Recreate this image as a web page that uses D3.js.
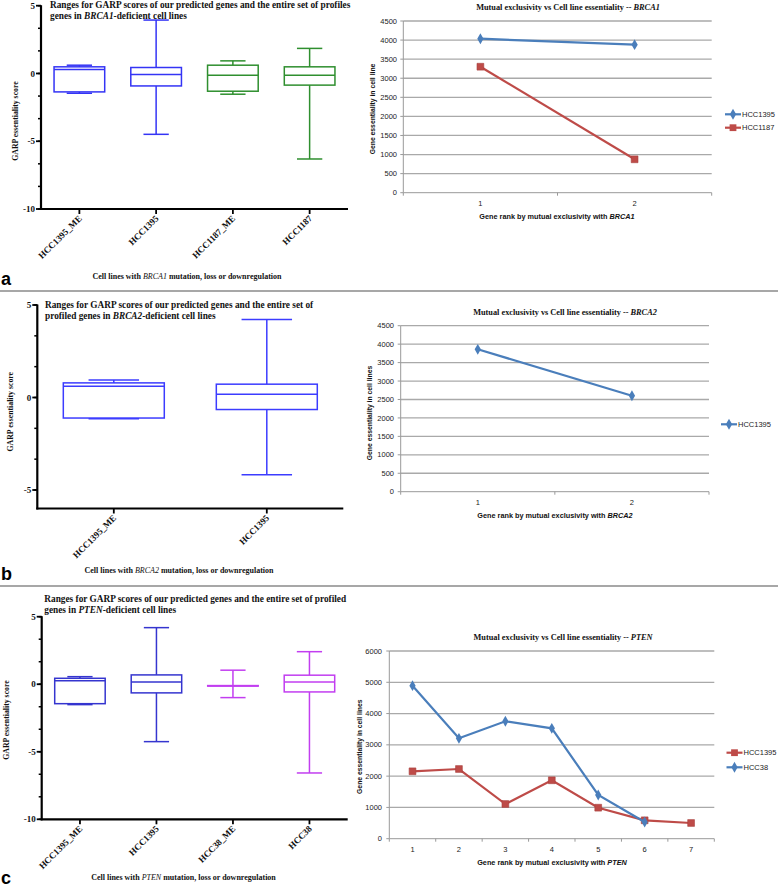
<!DOCTYPE html>
<html><head><meta charset="utf-8">
<script src="https://cdn.jsdelivr.net/npm/d3@7"></script>
<style>body{margin:0;background:#fff}svg{display:block}</style>
</head><body>
<svg id="c" width="778" height="888"></svg>
<script>
// ---------- DATA ----------
// Panel a box plot (GARP essentiality scores)
const boxA_cats = ["HCC1395_ME", "HCC1395", "HCC1187_ME", "HCC1187"];
const boxA_max = [0.61, 3.94, 0.93, 1.85];
const boxA_q3 = [0.49, 0.44, 0.61, 0.49];
const boxA_med = [0.30, -0.07, -0.13, -0.13];
const boxA_q1 = [-1.36, -0.92, -1.31, -0.86];
const boxA_min = [-1.46, -4.49, -1.53, -6.31];
const boxA_ticks = [5, 0, -5, -10];
// Panel b box plot
const boxB_cats = ["HCC1395_ME", "HCC1395"];
const boxB_max = [0.94, 4.22];
const boxB_q3 = [0.79, 0.72];
const boxB_med = [0.61, 0.18];
const boxB_q1 = [-1.11, -0.65];
const boxB_min = [-1.15, -4.17];
const boxB_ticks = [5, 0, -5];
// Panel c box plot
const boxC_cats = ["HCC1395_ME", "HCC1395", "HCC38_ME", "HCC38"];
const boxC_max = [0.56, 4.19, 1.04, 2.41];
const boxC_q3 = [0.44, 0.69, -0.10, 0.67];
const boxC_med = [0.25, 0.17, -0.12, 0.17];
const boxC_q1 = [-1.44, -0.64, -0.14, -0.57];
const boxC_min = [-1.51, -4.25, -0.99, -6.57];
const boxC_ticks = [5, 0, -5, -10];
// Panel a line chart
const lineA_ranks = [1, 2];
const lineA_HCC1395 = [4036, 3879];
const lineA_HCC1187 = [3302, 875];
const lineA_ticks = [0, 500, 1000, 1500, 2000, 2500, 3000, 3500, 4000, 4500];
// Panel b line chart
const lineB_ranks = [1, 2];
const lineB_HCC1395 = [3860, 2602];
const lineB_ticks = [0, 500, 1000, 1500, 2000, 2500, 3000, 3500, 4000, 4500];
// Panel c line chart
const lineC_ranks = [1, 2, 3, 4, 5, 6, 7];
const lineC_HCC1395 = [2154, 2228, 1109, 1867, 991, 588, 502];
const lineC_HCC38 = [4891, 3209, 3753, 3529, 1397, 534];
const lineC_ticks = [0, 1000, 2000, 3000, 4000, 5000, 6000];

// ---------- STYLE ----------
const SERIF = "'Liberation Serif','Times New Roman',serif";
const SANS = "'Liberation Sans',Arial,sans-serif";
const BLUE_LINE = "#4a7ebb", RED_LINE = "#be4b48";

const svg = d3.select("#c");

function rich(g, x, y, segs, o) {
  const t = g.append("text").attr("x", x).attr("y", y)
    .attr("font-family", o.family).attr("font-size", o.size)
    .attr("font-weight", o.weight || "bold")
    .attr("text-anchor", o.anchor || "start").attr("fill", "#111");
  if (o.transform) t.attr("transform", o.transform);
  segs.forEach(s => {
    const ts = t.append("tspan").text(s[0]);
    if (s[1]) ts.attr("font-style", "italic");
    if (s[2]) ts.attr("font-weight", s[2]);
  });
  return t;
}

function boxPlot(p) {
  const g = svg.append("g");
  const x = d3.scaleBand().domain(p.cats).range(p.xr);
  const y = d3.scaleLinear().domain(p.yd).range(p.yr);
  const x0 = p.xr[0], yb = y(p.yd[0]), yt = y(p.yd[1]);
  // axes
  g.append("line").attr("x1", x0).attr("x2", x0).attr("y1", yt - 0.5).attr("y2", yb + 1)
    .attr("stroke", "#000").attr("stroke-width", 2.2);
  g.append("line").attr("x1", x0 - 1).attr("x2", p.xr[1]).attr("y1", yb).attr("y2", yb)
    .attr("stroke", "#000").attr("stroke-width", 2.2);
  // minor ticks
  const minor = d3.range(p.yd[1], p.yd[0] - 0.01, -5 / 3);
  minor.forEach(v => {
    g.append("line").attr("x1", x0 - 3).attr("x2", x0).attr("y1", y(v)).attr("y2", y(v))
      .attr("stroke", "#000").attr("stroke-width", 1.5);
  });
  p.ticks.forEach(v => {
    g.append("line").attr("x1", x0 - 5).attr("x2", x0).attr("y1", y(v)).attr("y2", y(v))
      .attr("stroke", "#000").attr("stroke-width", 1.8);
    g.append("text").attr("x", x0 - 6).attr("y", y(v)).attr("dy", "0.35em")
      .attr("text-anchor", "end").attr("font-family", SERIF).attr("font-weight", "bold")
      .attr("font-size", 9).attr("fill", "#111").text(String(v));
  });
  // categories
  const bw = x.bandwidth() * 0.66, cw = bw / 2;
  p.cats.forEach((c, i) => {
    const cx = x(c) + x.bandwidth() / 2, col = p.colors[i];
    g.append("line").attr("x1", cx).attr("x2", cx).attr("y1", yb).attr("y2", yb + 5)
      .attr("stroke", "#000").attr("stroke-width", 1.8);
    rich(g, 0, 0, [[c]], { family: SERIF, size: 9, anchor: "end",
      transform: `translate(${cx + 3},${yb + 10}) rotate(-45)` });
    const bx = g.append("g").attr("stroke", col).attr("stroke-width", 1.5).attr("fill", "none");
    bx.append("line").attr("x1", cx).attr("x2", cx).attr("y1", y(p.max[i])).attr("y2", y(p.q3[i]));
    bx.append("line").attr("x1", cx).attr("x2", cx).attr("y1", y(p.q1[i])).attr("y2", y(p.min[i]));
    bx.append("line").attr("x1", cx - cw / 2).attr("x2", cx + cw / 2).attr("y1", y(p.max[i])).attr("y2", y(p.max[i]));
    bx.append("line").attr("x1", cx - cw / 2).attr("x2", cx + cw / 2).attr("y1", y(p.min[i])).attr("y2", y(p.min[i]));
    bx.append("rect").attr("x", cx - bw / 2).attr("width", bw).attr("y", y(p.q3[i]))
      .attr("height", Math.max(0.01, y(p.q1[i]) - y(p.q3[i])));
    bx.append("line").attr("x1", cx - bw / 2).attr("x2", cx + bw / 2).attr("y1", y(p.med[i])).attr("y2", y(p.med[i]));
  });
  // titles
  p.title.forEach((segs, k) => rich(g, p.titleX, p.titleY[k], segs, { family: SERIF, size: 9.3 }).attr("dy", "0.35em"));
  rich(g, 0, 0, [["GARP essentiality score"]], { family: SERIF, size: 7.8, anchor: "middle",
    transform: `translate(${p.ytX},${p.ytY}) rotate(-90)` }).attr("dy", "0.35em");
  rich(g, p.xtX, p.xtY, p.xtitle, { family: SERIF, size: 8, anchor: "middle" }).attr("dy", "0.35em");
}

function lineChart(p) {
  const g = svg.append("g");
  const x = d3.scaleBand().domain(p.ranks).range(p.xr);
  const y = d3.scaleLinear().domain(p.yd).range(p.yr);
  const x0 = p.xr[0], x1 = p.xr[1], yb = y(p.yd[0]);
  p.ticks.forEach(v => {
    if (v > 0) g.append("line").attr("x1", x0).attr("x2", x1).attr("y1", y(v)).attr("y2", y(v))
      .attr("stroke", "#a9a9a9").attr("stroke-width", 1.3);
    g.append("line").attr("x1", x0 - 3).attr("x2", x0).attr("y1", y(v)).attr("y2", y(v))
      .attr("stroke", "#999").attr("stroke-width", 1);
    g.append("text").attr("x", p.labX).attr("y", y(v)).attr("dy", "0.35em").attr("text-anchor", "end")
      .attr("font-family", SANS).attr("font-size", 7.5).attr("fill", "#222").text(String(v));
  });
  g.append("line").attr("x1", x0).attr("x2", x0).attr("y1", y(p.yd[1])).attr("y2", yb)
    .attr("stroke", "#999").attr("stroke-width", 1);
  g.append("line").attr("x1", x0).attr("x2", x1).attr("y1", yb).attr("y2", yb)
    .attr("stroke", "#999").attr("stroke-width", 1);
  const edges = p.ranks.map(r => x(r)).concat([x1]);
  edges.forEach(e => g.append("line").attr("x1", e).attr("x2", e).attr("y1", yb).attr("y2", yb + 3)
    .attr("stroke", "#999").attr("stroke-width", 1));
  p.ranks.forEach(r => g.append("text").attr("x", x(r) + x.bandwidth() / 2).attr("y", yb + 11)
    .attr("dy", "0.35em").attr("text-anchor", "middle").attr("font-family", SANS)
    .attr("font-size", 7.5).attr("fill", "#222").text(String(r)));
  const cx = r => x(r) + x.bandwidth() / 2;
  p.series.forEach(s => {
    const pts = s.values.map((v, i) => [cx(p.ranks[i]), y(v)]);
    g.append("path").attr("d", d3.line()(pts)).attr("fill", "none")
      .attr("stroke", s.color).attr("stroke-width", 2.2);
    const sym = d3.symbol().type(s.marker === "square" ? d3.symbolSquare : d3.symbolDiamond)
      .size(s.marker === "square" ? 46 : 34);
    pts.forEach(pt => g.append("path").attr("d", sym()).attr("transform", `translate(${pt[0]},${pt[1]})`)
      .attr("fill", s.color).attr("stroke", s.marker === "square" ? "#a8403d" : "none").attr("stroke-width", 0.6));
    // legend
    g.append("line").attr("x1", s.lx).attr("x2", s.lx + 16).attr("y1", s.ly).attr("y2", s.ly)
      .attr("stroke", s.color).attr("stroke-width", 2.2);
    g.append("path").attr("d", sym()).attr("transform", `translate(${s.lx + 8},${s.ly})`).attr("fill", s.color);
    g.append("text").attr("x", s.lx + 17).attr("y", s.ly).attr("dy", "0.35em")
      .attr("font-family", SANS).attr("font-size", 7.5).attr("fill", "#222").text(s.name);
  });
  rich(g, p.tX, p.tY, p.title, { family: SERIF, size: 8.3, anchor: "middle" }).attr("dy", "0.35em");
  rich(g, p.xtX, p.xtY, p.xtitle, { family: SANS, size: 7.3, anchor: "middle" }).attr("dy", "0.35em");
  rich(g, 0, 0, [[p.ytitle]], { family: SANS, size: 6.8, anchor: "middle",
    transform: `translate(${p.ytX},${p.ytY}) rotate(-90)` }).attr("dy", "0.35em");
}

// separators
[291, 586].forEach(yy => svg.append("line").attr("x1", 0).attr("x2", 778).attr("y1", yy).attr("y2", yy)
  .attr("stroke", "#8a8a8a").attr("stroke-width", 1.5));
// panel letters
[["a", 285], ["b", 580], ["c", 884]].forEach(([l, yy]) => svg.append("text").attr("x", 1).attr("y", yy)
  .attr("font-family", SANS).attr("font-weight", "bold").attr("font-size", 18).attr("fill", "#000").text(l));

// ---------- PANEL A ----------
boxPlot({
  cats: boxA_cats, max: boxA_max, q3: boxA_q3, med: boxA_med, q1: boxA_q1, min: boxA_min, ticks: boxA_ticks,
  colors: ["#3434f5", "#3434f5", "#2f8f2f", "#2f8f2f"],
  xr: [41, 348], yd: [-10, 5], yr: [209, 5.7],
  title: [[["Ranges for GARP scores of our predicted genes and the entire set of profiles"]],
          [["genes in "], ["BRCA1", true], ["-deficient cell lines"]]],
  titleX: 50, titleY: [5, 16],
  ytX: 15, ytY: 121,
  xtitle: [["Cell lines with "], ["BRCA1", true, "normal"], [" mutation, loss or downregulation"]], xtX: 187, xtY: 276.5
});
lineChart({
  ranks: lineA_ranks, ticks: lineA_ticks, xr: [403.3, 711.7], yd: [0, 4500], yr: [192.7, 21], labX: 397,
  series: [
    { name: "HCC1395", values: lineA_HCC1395, color: BLUE_LINE, marker: "diamond", lx: 725, ly: 114.3 },
    { name: "HCC1187", values: lineA_HCC1187, color: RED_LINE, marker: "square", lx: 725, ly: 127.7 }],
  title: [["Mutual exclusivity vs Cell line essentiality -- "], ["BRCA1", true]], tX: 568, tY: 7,
  xtitle: [["Gene rank by mutual exclusivity  with "], ["BRCA1", true]], xtX: 557, xtY: 216.7,
  ytitle: "Gene essentiality in cell line", ytX: 373, ytY: 109
});

// ---------- PANEL B ----------
boxPlot({
  cats: boxB_cats, max: boxB_max, q3: boxB_q3, med: boxB_med, q1: boxB_q1, min: boxB_min, ticks: boxB_ticks,
  colors: ["#3c3cff", "#3c3cff"],
  xr: [37.3, 343.3], yd: [-6, 5], yr: [508.5, 305],
  title: [[["Ranges for GARP scores of our predicted genes and the entire set of"]],
          [["profiled genes in "], ["BRCA2", true], ["-deficient cell lines"]]],
  titleX: 45, titleY: [305, 316],
  ytX: 10, ytY: 411.7,
  xtitle: [["Cell lines with "], ["BRCA2", true, "normal"], [" mutation, loss or downregulation"]], xtX: 179, xtY: 570
});
lineChart({
  ranks: lineB_ranks, ticks: lineB_ticks, xr: [400.7, 709], yd: [0, 4500], yr: [491.7, 325.7], labX: 394,
  series: [
    { name: "HCC1395", values: lineB_HCC1395, color: BLUE_LINE, marker: "diamond", lx: 721, ly: 424.3 }],
  title: [["Mutual  exclusivity vs Cell line essentiality -- "], ["BRCA2", true]], tX: 565, tY: 312.3,
  xtitle: [["Gene rank by mutual exclusivity  with "], ["BRCA2", true]], xtX: 555, xtY: 515.7,
  ytitle: "Gene essentiality in cell lines", ytX: 370, ytY: 413
});

// ---------- PANEL C ----------
boxPlot({
  cats: boxC_cats, max: boxC_max, q3: boxC_q3, med: boxC_med, q1: boxC_q1, min: boxC_min, ticks: boxC_ticks,
  colors: ["#3535cf", "#3535cf", "#c23ef0", "#c23ef0"],
  xr: [41.7, 347.7], yd: [-10, 5], yr: [819.3, 616.7],
  title: [[["Ranges for GARP scores of our predicted genes and the entire set of profiled"]],
          [["genes in "], ["PTEN", true], ["-deficient cell lines"]]],
  titleX: 44.3, titleY: [598.3, 610],
  ytX: 6.5, ytY: 720,
  xtitle: [["Cell lines with "], ["PTEN", true, "normal"], [" mutation, loss or downregulation"]], xtX: 183.5, xtY: 876.7
});
lineChart({
  ranks: lineC_ranks, ticks: lineC_ticks, xr: [389.3, 714.3], yd: [0, 6000], yr: [838.7, 651], labX: 382,
  series: [
    { name: "HCC1395", values: lineC_HCC1395, color: RED_LINE, marker: "square", lx: 726.5, ly: 752.7 },
    { name: "HCC38", values: lineC_HCC38, color: BLUE_LINE, marker: "diamond", lx: 726.5, ly: 767.3 }],
  title: [["Mutual  exclusivity vs Cell line essentiality -- "], ["PTEN", true]], tX: 563, tY: 637.3,
  xtitle: [["Gene rank by mutual exclusivity  with "], ["PTEN", true]], xtX: 552, xtY: 862.3,
  ytitle: "Gene essentiality in cell lines", ytX: 359.3, ytY: 746.7
});
</script>
</body></html>
